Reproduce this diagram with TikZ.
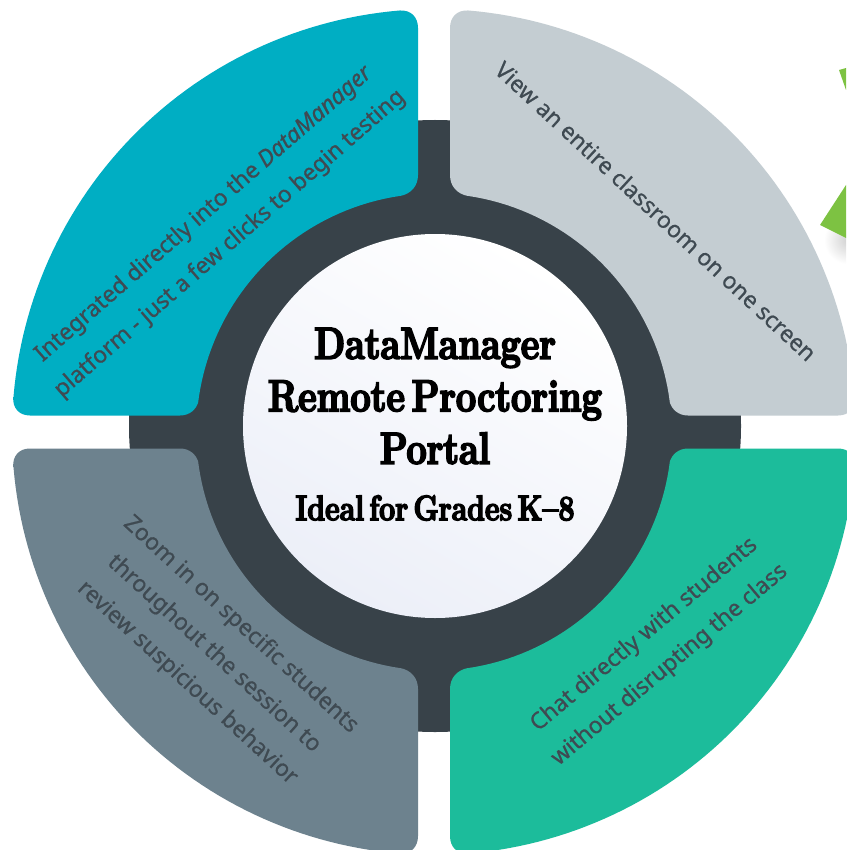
\documentclass[tikz,border=0pt]{standalone}
\usepackage{fontspec}
\setmainfont{Latin Modern Roman}[BoldFeatures={FakeStretch=0.8,FakeBold=4,WordSpace=0.5}]
\newfontfamily\bodyfont{Noto Sans}[FakeBold=0.7]
\usetikzlibrary{shadings}
\definecolor{tealc}{HTML}{00AEC3}
\definecolor{greyc}{HTML}{C4CDD2}
\definecolor{slatec}{HTML}{6D828E}
\definecolor{greenc}{HTML}{1CBC9B}
\definecolor{darkc}{HTML}{384249}
\definecolor{textc}{HTML}{3F4A52}
\definecolor{leafc}{HTML}{7DC242}
\definecolor{discc}{HTML}{ECEFF8}
\newcommand{\sectorpath}[1]{%
  \fill[#1] (418,28) -- (418,175) .. controls (418,186) and (411,194) .. (400,196)
      -- plot[domain=98.43:173,samples=40] ({435+238.7*cos(\x)},{432-238.7*sin(\x)})
      .. controls (196,409) and (190,415.5) .. (180,415.5)
      -- (30,415.5) .. controls (19,415.5) and (12.5,408) .. (13.2,397)
      -- plot[domain=175.26:94.75,samples=60] ({435+423*cos(\x)},{432-423*sin(\x)})
      .. controls (411,10) and (418,17) .. (418,28) -- cycle;}
\tikzset{
  x=1pt,y=-1pt,
  bodytext/.style={font=\bodyfont\fontsize{23}{39.5}\selectfont,text=textc,align=center,inner sep=0pt},
  titletext/.style={font=\bfseries\fontsize{45}{52.5}\selectfont,text=black,align=center,inner sep=0pt},
  subtext/.style={font=\bfseries\fontsize{35.5}{38}\selectfont,text=black,inner sep=0pt},
  leaf/.style={fill=leafc,draw=none}
}
\begin{document}
\begin{tikzpicture}
\useasboundingbox (0,0) rectangle (846,850);
\fill[white] (0,0) rectangle (846,850);
\begin{scope}
\clip (0,0) rectangle (846,850);
\shade[inner color=black!18,outer color=white] (848,240) circle[radius=24];
\end{scope}
\fill[leaf] (839,70) -- (846,68) -- (846,90) -- cycle;
\fill[leaf] (820,225) -- (846,185) -- (846,238) -- cycle;
\fill[darkc] (435,426) circle[radius=306];
\sectorpath{tealc}
\begin{scope}[shift={(868,0)},xscale=-1]\sectorpath{greyc}\end{scope}
\begin{scope}[shift={(0,864)},yscale=-1]\sectorpath{slatec}\end{scope}
\begin{scope}[shift={(868,864)},xscale=-1,yscale=-1]\sectorpath{greenc}\end{scope}
\shade[top color=white,bottom color=discc,shading angle=-30] (435,426) circle[radius=192];
\node[titletext] (title) at (435,396) {DataManager\\Remote Proctoring\\Portal};
\node[subtext] (sub) at (435,508) {Ideal for Grades K--8};
\node[bodytext,rotate=41] (tl) at (217,229) {Integrated directly into the \textit{DataManager}\\platform - just a few clicks to begin testing};
\node[bodytext,rotate=-42.8] (tr) at (656,211) {View an entire classroom on one screen};
\node[bodytext,rotate=-42.5] (bl) at (214,654) {Zoom in on specific students\\throughout the session to\\review suspicious behavior};
\node[bodytext,rotate=40] (br) at (657,650) {Chat directly with students\\without disrupting the class};
\end{tikzpicture}
\end{document}
